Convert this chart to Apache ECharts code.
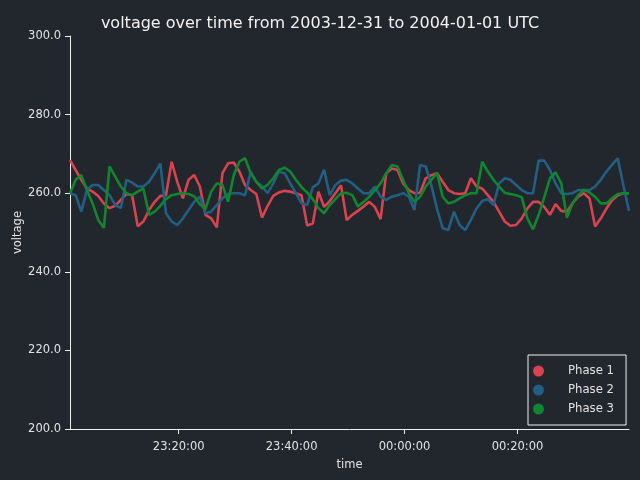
<!DOCTYPE html>
<html>
<head>
<meta charset="utf-8">
<script src="https://cdn.jsdelivr.net/npm/echarts@6/dist/echarts.min.js"></script>
<style>html,body{margin:0;padding:0;background:#22262d;}#c{width:640px;height:480px;}</style>
</head>
<body>
<div id="c"></div>
<script>
// Sampling: one reading per minute
const startTime = Date.UTC(2003, 11, 31, 23, 0, 45);
const stepMs = 60 * 1000;
const seriesNames = ['Phase 1', 'Phase 2', 'Phase 3'];
const yTicks = [200, 220, 240, 260, 280, 300];
const xTickTimes = [
  Date.UTC(2003, 11, 31, 23, 20, 0),
  Date.UTC(2003, 11, 31, 23, 40, 0),
  Date.UTC(2004, 0, 1, 0, 0, 0),
  Date.UTC(2004, 0, 1, 0, 20, 0)
];

const phase1 = [
  268.4, 265.9, 263.4, 261.2, 260.4, 259.3, 257.4, 256.2, 256.8, 258.3,
  259.8, 259.5, 251.6, 252.8, 255.7, 257.8, 259.3, 259.5, 268.0, 262.9,
  258.7, 263.4, 264.6, 261.7, 254.5, 253.6, 251.3, 265.1, 267.6, 267.8,
  265.5, 262.1, 260.8, 259.8, 253.8, 256.8, 259.3, 260.2, 260.6, 260.4,
  260.0, 259.5, 251.8, 252.3, 260.4, 256.5, 258.0, 260.0, 262.0, 253.2,
  254.5, 255.5, 256.6, 257.8, 256.5, 253.4, 265.1, 266.3, 265.9, 262.5,
  260.8, 260.0, 260.1, 263.8, 264.6, 265.1, 262.9, 260.8, 260.0, 259.8,
  260.0, 263.8, 261.7, 261.2, 259.5, 257.8, 255.3, 252.8, 251.7, 251.9,
  253.6, 256.1, 257.8, 257.8, 256.5, 254.5, 257.2, 255.5, 255.3, 257.4,
  259.1, 260.0, 258.7, 251.5, 253.6, 256.1, 258.2, 259.5, 260.0, 260.0
];
const phase2 = [
  260.0, 259.5, 255.3, 260.8, 262.1, 262.1, 260.8, 259.5, 257.0, 256.2,
  263.4, 262.7, 261.7, 261.7, 262.9, 265.1, 267.6, 254.9, 252.8, 251.9,
  253.6, 255.7, 257.8, 259.1, 254.9, 255.3, 257.0, 258.7, 259.8, 260.0,
  260.0, 259.5, 265.5, 262.9, 261.7, 260.0, 262.5, 265.5, 265.1, 262.5,
  260.0, 257.4, 257.0, 261.5, 262.5, 266.0, 259.5, 262.1, 263.2, 263.4,
  262.5, 261.2, 260.0, 260.0, 261.7, 259.1, 258.3, 259.1, 259.5, 260.0,
  259.1, 255.7, 267.2, 266.8, 262.0, 256.0, 251.1, 250.6, 255.3, 251.9,
  250.6, 253.2, 256.1, 258.0, 258.5, 257.0, 262.5, 263.8, 263.4, 262.1,
  260.8, 260.0, 260.0, 268.3, 268.3, 265.9, 262.5, 260.0, 259.8, 260.0,
  260.8, 260.8, 260.8, 261.7, 263.4, 265.5, 267.2, 268.9, 262.0, 255.5
];
const phase3 = [
  260.0, 263.4, 264.6, 260.8, 257.4, 253.2, 251.2, 266.8, 264.2, 261.7,
  260.0, 259.5, 260.4, 261.2, 254.5, 255.3, 256.8, 258.5, 259.5, 259.8,
  260.0, 259.8, 259.2, 257.2, 256.0, 260.4, 262.5, 262.1, 257.8, 264.6,
  268.0, 268.9, 265.1, 262.9, 261.2, 262.1, 263.8, 265.9, 266.5, 265.5,
  263.4, 261.5, 260.2, 258.5, 256.2, 254.9, 257.0, 258.5, 260.0, 260.1,
  259.5, 256.6, 257.8, 259.1, 260.8, 262.5, 265.1, 267.2, 266.8, 263.4,
  260.0, 257.8, 259.1, 261.7, 263.4, 265.1, 259.1, 257.4, 257.8, 258.7,
  259.5, 260.0, 260.0, 268.0, 265.5, 263.4, 261.7, 260.1, 259.8, 259.5,
  259.0, 253.6, 250.8, 254.5, 259.0, 263.8, 265.3, 262.5, 253.8, 257.4,
  259.5, 260.8, 260.2, 259.1, 257.4, 257.4, 258.7, 259.8, 260.0, 260.0
];
const colors = ['#d9434f', '#225f83', '#10862e'];

function toPairs(vals) {
  return vals.map((v, i) => [startTime + i * stepMs, v]);
}
function pad(n) { return (n < 10 ? '0' : '') + n; }
function fmtTime(value) {
  const d = new Date(value);
  return pad(d.getUTCHours()) + ':' + pad(d.getUTCMinutes()) + ':' + pad(d.getUTCSeconds());
}

const textColor = '#e2e2e2';
const lineColor = '#f0f0f0';
const font = 'DejaVu Sans';

const chart = echarts.init(document.getElementById('c'), null, { renderer: 'canvas' });
chart.setOption({
  animation: false,
  backgroundColor: '#22262d',
  color: colors,
  title: {
    text: 'voltage over time from 2003-12-31 to 2004-01-01 UTC',
    left: 'center',
    top: 11,
    textStyle: { color: '#f2f2f2', fontFamily: font, fontSize: 16, fontWeight: 'normal' }
  },
  grid: { left: 70, right: 11, top: 36, bottom: 51, outerBoundsMode: 'none', containLabel: false },
  legend: {
    orient: 'vertical',
    left: 528,
    top: 355,
    icon: 'circle',
    itemWidth: 11,
    itemHeight: 11,
    itemGap: 4,
    padding: [8.5, 12, 8.5, 5],
    borderColor: '#f0f0f0',
    borderWidth: 1,
    borderRadius: 0,
    backgroundColor: '#22262d',
    data: seriesNames,
    textStyle: { color: textColor, fontFamily: font, fontSize: 11.7, lineHeight: 15, padding: [0, 0, 0, 19] }
  },
  xAxis: {
    type: 'value',
    min: 'dataMin',
    max: 'dataMax',
    scale: true,
    name: 'time',
    nameLocation: 'middle',
    nameGap: 30,
    nameMoveOverlap: false,
    nameTextStyle: { color: textColor, fontFamily: font, fontSize: 11.5 },
    axisLine: { lineStyle: { color: lineColor, width: 1 } },
    axisTick: { show: true, length: 5, lineStyle: { color: lineColor }, customValues: xTickTimes },
    axisLabel: { color: textColor, fontFamily: font, fontSize: 11.5, margin: 12, formatter: fmtTime, customValues: xTickTimes, hideOverlap: false },
    splitLine: { show: false }
  },
  yAxis: {
    type: 'value',
    min: yTicks[0],
    max: yTicks[yTicks.length - 1],
    interval: 20,
    name: 'voltage',
    nameLocation: 'middle',
    nameGap: 46,
    nameMoveOverlap: false,
    nameTextStyle: { color: textColor, fontFamily: font, fontSize: 11.5 },
    axisLine: { show: true, lineStyle: { color: lineColor, width: 1 } },
    axisTick: { show: true, length: 5, lineStyle: { color: lineColor } },
    axisLabel: { color: textColor, fontFamily: font, fontSize: 11.5, margin: 9, formatter: v => v.toFixed(1) },
    splitLine: { show: false }
  },
  series: [
    { name: seriesNames[0], type: 'line', data: toPairs(phase1), showSymbol: false, lineStyle: { width: 2.6 } },
    { name: seriesNames[1], type: 'line', data: toPairs(phase2), showSymbol: false, lineStyle: { width: 2.6 } },
    { name: seriesNames[2], type: 'line', data: toPairs(phase3), showSymbol: false, lineStyle: { width: 2.6 } }
  ]
});
</script>
</body>
</html>
